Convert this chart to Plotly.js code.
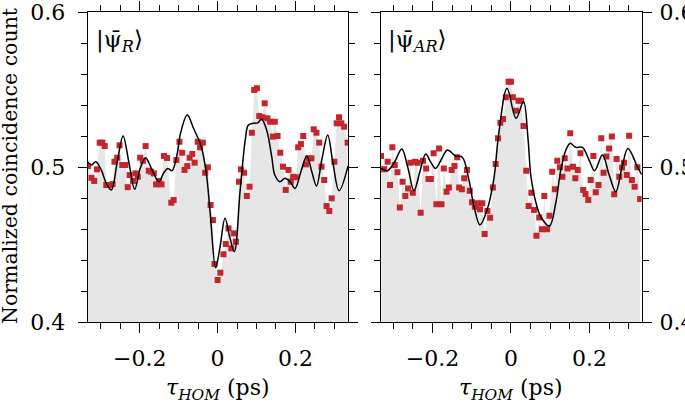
<!DOCTYPE html>
<html>
<head>
<meta charset="utf-8">
<script src="https://cdn.plot.ly/plotly-3.0.1.min.js"></script>
<style>html,body{margin:0;padding:0;background:#fff;}#chart{width:685px;height:403px;}</style>
</head>
<body>
<div id="chart"></div>
<script>
// ---- Left panel |ψ_R> : measured points ----
var leftX = [-0.333,-0.324,-0.317,-0.310,-0.303,-0.296,-0.290,-0.286,-0.277,-0.270,-0.265,-0.258,-0.252,-0.245,-0.237,-0.231,-0.226,-0.217,-0.211,-0.205,-0.199,-0.192,-0.185,-0.177,-0.171,-0.164,-0.158,-0.151,-0.144,-0.138,-0.130,-0.119,-0.113,-0.106,-0.098,-0.091,-0.085,-0.078,-0.072,-0.065,-0.059,-0.051,-0.045,-0.038,-0.032,-0.025,-0.018,-0.012,-0.008,0.000,0.007,0.015,0.021,0.028,0.035,0.041,0.047,0.055,0.060,0.068,0.075,0.082,0.088,0.094,0.101,0.107,0.115,0.121,0.128,0.135,0.142,0.147,0.154,0.161,0.168,0.175,0.182,0.188,0.194,0.201,0.207,0.214,0.220,0.227,0.233,0.241,0.247,0.254,0.261,0.267,0.274,0.280,0.287,0.293,0.300,0.306,0.312,0.318,0.325,0.334];
var leftY = [0.5006,0.4930,0.4910,0.4985,0.5157,0.5157,0.5135,0.4884,0.4884,0.4890,0.5034,0.5060,0.5140,0.5013,0.5013,0.4870,0.4948,0.4910,0.4959,0.4937,0.5060,0.5040,0.5135,0.4976,0.4970,0.4959,0.4888,0.4910,0.4888,0.5071,0.5058,0.4770,0.4787,0.5045,0.5163,0.5092,0.4981,0.5006,0.5060,0.5084,0.5028,0.5163,0.5127,0.5157,0.4963,0.4998,0.4755,0.4658,0.4374,0.4271,0.4318,0.4437,0.4503,0.4604,0.4475,0.4572,0.4518,0.4905,0.4985,0.4963,0.4813,0.4873,0.5221,0.5497,0.5508,0.5329,0.5321,0.5411,0.5314,0.5292,0.5196,0.5292,0.5200,0.5092,0.5002,0.4852,0.4981,0.4905,0.4937,0.4934,0.5127,0.5148,0.5200,0.5017,0.5056,0.5056,0.5243,0.5221,0.5157,0.5002,0.4916,0.4748,0.4716,0.4798,0.5034,0.5282,0.5321,0.5282,0.5260,0.5157];
// ---- Left panel fit curve ----
var leftFitX = [-0.337,-0.324,-0.313,-0.299,-0.286,-0.273,-0.258,-0.243,-0.228,-0.213,-0.199,-0.185,-0.170,-0.151,-0.139,-0.128,-0.117,-0.105,-0.095,-0.078,-0.062,-0.042,-0.029,-0.019,-0.005,0.006,0.019,0.031,0.043,0.058,0.071,0.079,0.092,0.103,0.113,0.126,0.139,0.147,0.160,0.173,0.186,0.199,0.214,0.229,0.242,0.254,0.268,0.283,0.296,0.312,0.335];
var leftFitY = [0.5045,0.5013,0.5034,0.4981,0.4895,0.4852,0.5030,0.5200,0.5030,0.4856,0.4990,0.5060,0.4990,0.4905,0.4960,0.4991,0.4976,0.5070,0.5220,0.5335,0.5250,0.5131,0.4959,0.4701,0.4350,0.4480,0.4669,0.4550,0.4454,0.4852,0.5174,0.5271,0.5282,0.5285,0.5308,0.5239,0.5067,0.4948,0.4905,0.4927,0.4905,0.4862,0.4970,0.5071,0.4970,0.4877,0.5050,0.5206,0.5030,0.4847,0.5006];

// ---- Right panel |ψ_AR> : measured points ----
var rightX = [-0.331,-0.323,-0.314,-0.308,-0.302,-0.296,-0.289,-0.283,-0.276,-0.269,-0.262,-0.256,-0.250,-0.244,-0.238,-0.230,-0.224,-0.216,-0.210,-0.204,-0.197,-0.190,-0.183,-0.177,-0.171,-0.164,-0.158,-0.151,-0.144,-0.137,-0.132,-0.125,-0.119,-0.112,-0.105,-0.099,-0.092,-0.086,-0.079,-0.073,-0.067,-0.060,-0.053,-0.046,-0.039,-0.033,-0.027,-0.020,-0.013,-0.006,0.000,0.005,0.013,0.019,0.026,0.032,0.039,0.045,0.052,0.059,0.065,0.072,0.079,0.085,0.092,0.098,0.105,0.112,0.118,0.125,0.131,0.137,0.144,0.151,0.158,0.164,0.170,0.177,0.184,0.190,0.197,0.203,0.210,0.216,0.223,0.230,0.236,0.243,0.250,0.257,0.263,0.269,0.276,0.283,0.288,0.295,0.301,0.308,0.315,0.322,0.329];
var rightY = [0.5071,0.4985,0.5034,0.4884,0.5127,0.5013,0.4966,0.4738,0.4905,0.4813,0.4862,0.5028,0.4834,0.5034,0.5028,0.4705,0.5040,0.4991,0.4923,0.4923,0.5088,0.4759,0.5120,0.4759,0.4991,0.4841,0.4867,0.4981,0.5006,0.5063,0.4867,0.4856,0.4927,0.4981,0.4847,0.4772,0.4744,0.4766,0.4727,0.4766,0.4568,0.4716,0.4673,0.4867,0.5019,0.5185,0.5286,0.5310,0.5450,0.5550,0.5550,0.5450,0.5363,0.5428,0.5428,0.5265,0.4976,0.4748,0.4834,0.4723,0.4557,0.4675,0.4598,0.4813,0.4598,0.4686,0.4970,0.4856,0.5040,0.4998,0.4937,0.5056,0.4991,0.5217,0.5002,0.4927,0.4981,0.5088,0.4852,0.4826,0.4787,0.4916,0.5071,0.4837,0.4884,0.5185,0.4963,0.5067,0.5120,0.5196,0.4824,0.5052,0.4937,0.4996,0.5028,0.4948,0.5202,0.4916,0.4873,0.4998,0.4794];
// ---- Right panel fit curve ----
var rightFitX = [-0.336,-0.315,-0.297,-0.278,-0.263,-0.247,-0.232,-0.217,-0.204,-0.192,-0.177,-0.162,-0.141,-0.124,-0.107,-0.094,-0.079,-0.061,-0.044,-0.031,-0.010,0.013,0.032,0.043,0.051,0.064,0.076,0.098,0.114,0.127,0.140,0.151,0.165,0.182,0.199,0.213,0.233,0.250,0.267,0.283,0.298,0.322,0.333];
var rightFitY = [0.5002,0.4976,0.5030,0.5116,0.5000,0.4847,0.4970,0.5084,0.5030,0.4991,0.5050,0.5110,0.5071,0.5063,0.4916,0.4744,0.4626,0.4723,0.4916,0.5217,0.5508,0.5314,0.5421,0.5196,0.4937,0.4766,0.4679,0.4619,0.4766,0.4981,0.5110,0.5153,0.5127,0.5127,0.5045,0.4976,0.5077,0.4950,0.4841,0.5000,0.5120,0.5002,0.4950];

var xTickVals = [-0.2, 0, 0.2];
var xTickText = ['\u22120.2', '0', '0.2'];
var yTickVals = [0.4, 0.5, 0.6];
var yTickText = ['0.4', '0.5', '0.6'];
var panelLabels = ['|ψ\u0304<sub><i>R</i></sub>⟩', '|ψ\u0304<sub><i>AR</i></sub>⟩'];
var xTitle = '<i>τ</i><sub><i>HOM</i></sub> (ps)';
var yTitle = 'Normalized coincidence count';

var FONT = 'DejaVu Serif';
var FILL = '#e6e6e6';
var RED = '#c4262e';

function panel(xs, ys, fx, fy, xa, ya) {
  return [
    {x: xs, y: ys, xaxis: xa, yaxis: ya, type: 'scatter', mode: 'lines',
     line: {width: 0, color: FILL}, fill: 'tozeroy', fillcolor: FILL, hoverinfo: 'skip'},
    {x: xs, y: ys, xaxis: xa, yaxis: ya, type: 'scatter', mode: 'markers',
     marker: {symbol: 'square', size: 6, color: RED}},
    {x: fx, y: fy, xaxis: xa, yaxis: ya, type: 'scatter', mode: 'lines',
     line: {color: '#000', width: 1.5, shape: 'spline', smoothing: 1}}
  ];
}

var data = panel(leftX, leftY, leftFitX, leftFitY, 'x', 'y')
  .concat(panel(rightX, rightY, rightFitX, rightFitY, 'x2', 'y2'));

function xAxis(domain, range, anchor) {
  return {
    domain: domain, range: range, anchor: anchor,
    tickmode: 'array', tickvals: xTickVals, ticktext: xTickText,
    ticks: 'outside', ticklen: 10, tickwidth: 1, tickcolor: '#000',
    minor: {tickmode: 'linear', tick0: 0, dtick: 0.05, ticks: 'outside', ticklen: 6, tickwidth: 1, tickcolor: '#000'},
    showline: true, linecolor: '#000', linewidth: 1.3, mirror: 'ticks',
    showgrid: false, zeroline: false, ticklabeloverflow: 'allow',
    tickfont: {family: FONT, size: 22, color: '#000'}, ticklabelstandoff: 6
  };
}
function yAxis(domain, anchor, side, standoff) {
  return {
    domain: domain, range: [0.4, 0.6], anchor: anchor, side: side,
    tickmode: 'array', tickvals: yTickVals, ticktext: yTickText,
    ticks: 'outside', ticklen: 9, tickwidth: 1, tickcolor: '#000',
    minor: {tickmode: 'linear', tick0: 0.4, dtick: 0.02, ticks: 'outside', ticklen: 6, tickwidth: 1, tickcolor: '#000'},
    showline: true, linecolor: '#000', linewidth: 1.3, mirror: 'ticks',
    showgrid: false, zeroline: false, ticklabeloverflow: 'allow',
    tickfont: {family: FONT, size: 22, color: '#000'}, ticklabelstandoff: standoff
  };
}

var yDom = [1 - 322 / 403, 1 - 12 / 403];
var layout = {
  width: 685, height: 403,
  margin: {l: 0, r: 0, t: 0, b: 0},
  paper_bgcolor: '#fff', plot_bgcolor: '#fff',
  showlegend: false,
  font: {family: FONT, color: '#000'},
  xaxis: xAxis([88 / 685, 348 / 685], [-0.333, 0.335], 'y'),
  yaxis: yAxis(yDom, 'x', 'left', 8),
  xaxis2: xAxis([381 / 685, 641.7 / 685], [-0.331, 0.333], 'y2'),
  yaxis2: yAxis(yDom, 'x2', 'right', 3),
  annotations: [
    {text: panelLabels[0], xref: 'paper', yref: 'paper', x: 94 / 685, y: 1 - 24 / 403,
     xanchor: 'left', yanchor: 'top', showarrow: false, font: {family: FONT, size: 23}},
    {text: panelLabels[1], xref: 'paper', yref: 'paper', x: 386 / 685, y: 1 - 24 / 403,
     xanchor: 'left', yanchor: 'top', showarrow: false, font: {family: FONT, size: 23}},
    {text: xTitle, xref: 'paper', yref: 'paper', x: 218 / 685, y: 1 - 389 / 403,
     xanchor: 'center', yanchor: 'middle', showarrow: false, font: {family: FONT, size: 22}},
    {text: xTitle, xref: 'paper', yref: 'paper', x: 511 / 685, y: 1 - 389 / 403,
     xanchor: 'center', yanchor: 'middle', showarrow: false, font: {family: FONT, size: 22}},
    {text: yTitle, xref: 'paper', yref: 'paper', x: 10 / 685, y: 1 - 166 / 403,
     xanchor: 'center', yanchor: 'middle', textangle: -90, showarrow: false, font: {family: FONT, size: 20.5}}
  ]
};

Plotly.newPlot('chart', data, layout, {staticPlot: true, displayModeBar: false});
</script>
</body>
</html>
